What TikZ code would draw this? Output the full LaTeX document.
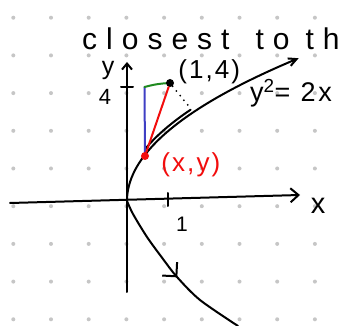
\documentclass[tikz,border=0pt]{standalone}
\usepackage{fontspec}
\setmainfont{Liberation Sans}
\usepackage{tikz}
\usetikzlibrary{arrows.meta,positioning,decorations.markings}
\definecolor{sketchred}{HTML}{F20D0D}
\definecolor{sketchblue}{HTML}{3F3FC4}
\definecolor{sketchgreen}{HTML}{1F8A1F}
\definecolor{dotgray}{HTML}{C6C6C6}
\tikzset{
  pen/.style={line width=2pt, line cap=round, line join=round},
  axisline/.style={pen, -{Straight Barb[length=8pt,width=14pt]}},
  handtext/.style={inner sep=0pt, font=\fontsize{26}{28}\selectfont\addfontfeature{LetterSpace=8}},
  titletext/.style={inner sep=0pt, font=\fontsize{30}{32}\selectfont\addfontfeature{LetterSpace=30}},
  pointdot/.style={circle, inner sep=0pt, minimum size=8pt}
}

\begin{document}
\begin{tikzpicture}[x=1pt, y=-1pt, node distance=6pt and 6pt]
\useasboundingbox[fill=white] (0,0) rectangle (338,326);
\clip (0,0) rectangle (338,326);
% dotted paper
\foreach \i in {0,...,8}
  \foreach \j in {0,...,8}
    \fill[dotgray] ({13.3+37.7*\i},{17.7+37.7*\j}) circle (2);

\node[titletext, anchor=base west] (title) at (82,50) {closest\hspace{26pt}to\hspace{16pt}th};

% axes
\coordinate (O) at (127,201);
\coordinate (xstart) at (10,203);
\coordinate (xend) at (300,195);
\coordinate (ystart) at (127,292);
\coordinate (yend) at (127,62);
\draw[axisline] (xstart) -- (xend);
\draw[axisline, -{Straight Barb[length=6pt,width=10pt]}] (ystart) -- (yend);
\coordinate (tick4) at (127,87);
\coordinate (tick1) at (168,199);
\draw[pen] ([xshift=-6pt]tick4) -- ([xshift=6pt]tick4);
\draw[pen] ([yshift=6pt]tick1) -- ([yshift=-7pt]tick1);
\node[handtext, font=\fontsize{25}{27}\selectfont] (ylab) at (108,70) {y};
\node[handtext, font=\fontsize{22}{24}\selectfont] (lab4) at (105,97) {4};
\node[handtext, font=\fontsize{21}{23}\selectfont] (lab1) at (182,224) {1};
\node[handtext, font=\fontsize{29}{31}\selectfont] (xlab) at (318,206) {x};

% the parabola
\draw[pen, -{Straight Barb[length=8pt,width=8pt]}]
  plot[domain=0:13.1, samples=60, smooth] ({127+\x*\x},{201-10.9*\x});
\draw[pen] plot[domain=4.5:8.1, samples=20, smooth] ({125+\x*\x},{198-10.9*\x});
\draw[pen, postaction={decorate},
  decoration={markings, mark=at position 0.54 with {\arrow{Straight Barb[length=10pt,width=20pt]}}}]
  plot[smooth] coordinates {(127,201) (133,214) (147,237) (163,259) (177,277) (200,300) (238,326)};
\node[handtext, anchor=west, font=\fontsize{27}{29}\selectfont\addfontfeature{LetterSpace=10}] (eqn) at (250,93) {y\textsuperscript{2}= 2x};

% points and distance
\coordinate (corner) at (144.5,87);
\coordinate (foot) at (191,109);
\draw[pen, sketchblue] (corner) -- (145,156);
\draw[pen, sketchgreen] (corner) to[bend left=6] (170,83);
\node[pointdot, fill=black] (pt14) at (170,83) {};
\node[pointdot, fill=sketchred] (ptxy) at (145,156) {};
\draw[pen, sketchred] (ptxy) -- (pt14);
\draw[pen, dash pattern=on 0pt off 6pt] (pt14) -- (foot);
\node[handtext, right=4pt of pt14, yshift=11pt] (lab14) {(1,4)};
\node[handtext, text=sketchred, right=12pt of ptxy, yshift=-9pt] (labxy) {(x,y)};
\end{tikzpicture}
\end{document}
